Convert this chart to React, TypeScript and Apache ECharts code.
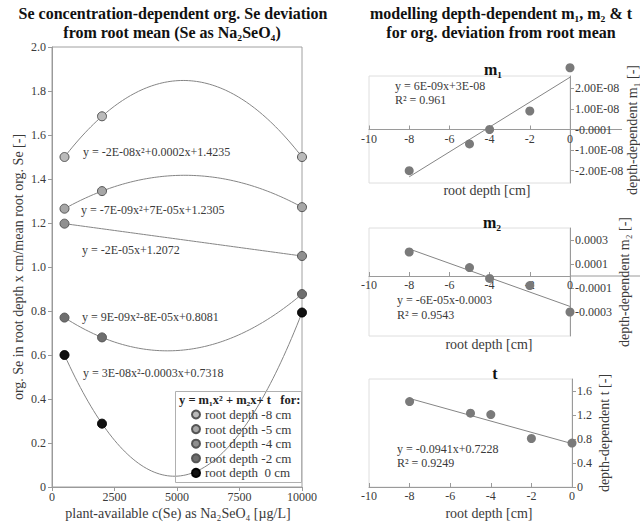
import { useEffect, useRef } from "react";
import * as echarts from "echarts";

const FONT = "'Liberation Serif', 'Times New Roman', serif";
const TEXT = "#3a3a3a";
const AXIS = "#9a9a9a";

// ---- left panel: org. Se deviation vs. plant-available Se ----
const depthNames = [
  "root depth -8 cm",
  "root depth -5 cm",
  "root depth -4 cm",
  "root depth -2 cm",
  "root depth  0 cm",
];
const conc3 = [500, 2000, 10000];
const conc2 = [500, 10000];
const dev8 = [1.5, 1.685, 1.5];
const dev5 = [1.265, 1.345, 1.272];
const dev4 = [1.197, 1.05];
const dev2 = [0.77, 0.68, 0.877];
const dev0 = [0.6, 0.288, 0.793];
const depthFills = ["#bababa", "#a6a6a6", "#8f8f8f", "#6e6e6e", "#111111"];
const fitEquations = [
  "y = -2E-08x\u00b2+0.0002x+1.4235",
  "y = -7E-09x\u00b2+7E-05x+1.2305",
  "y = -2E-05x+1.2072",
  "y = 9E-09x\u00b2-8E-05x+0.8081",
  "y = 3E-08x\u00b2-0.0003x+0.7318",
];
const fitLabelPos = [
  [83, 152],
  [81, 210],
  [82, 250],
  [82, 317],
  [83, 373],
];

// ---- right panels: depth-dependent coefficients ----
const rootDepths = [-8, -5, -4, -2, 0];
const m1Values = [-2e-8, -7e-9, 0, 9e-9, 3e-8];
const m2Values = [2e-4, 7e-5, -2e-5, -8e-5, -3e-4];
const tValues = [1.4235, 1.2305, 1.2072, 0.8081, 0.7318];
const m1Range = [-2.6e-8, 2.6e-8];
const m2Range = [-5e-4, 4e-4];
const tRange = [0, 1.8];
const m1Ticks = [-2e-8, -1e-8, 0, 1e-8, 2e-8];
const m1TickLabels = ["-2.00E-08", "-1.00E-08", "-0.0001", "1.00E-08", "2.00E-08"];
const m2Ticks = [-3e-4, -1e-4, 1e-4, 3e-4];
const m2TickLabels = ["-0.0003", "-0.0001", "0.0001", "0.0003"];
const tTicks = [0, 0.4, 0.8, 1.2, 1.6];
const tTickLabels = ["0", "0.4", "0.8", "1.2", "1.6"];
const m1Fit = ["y = 6E-09x+3E-08", "R\u00b2 = 0.961"];
const m2Fit = ["y = -6E-05x-0.0003", "R\u00b2 = 0.9543"];
const tFit = ["y = -0.0941x+0.7228", "R\u00b2 = 0.9249"];

// polynomial trendline through the given points (Newton divided differences)
function polyThrough(xs: number[], ys: number[]) {
  const n = xs.length;
  const coef = ys.slice();
  for (let j = 1; j < n; j++) {
    for (let i = n - 1; i >= j; i--) {
      coef[i] = (coef[i] - coef[i - 1]) / (xs[i] - xs[i - j]);
    }
  }
  return (x: number) => {
    let v = coef[n - 1];
    for (let i = n - 2; i >= 0; i--) v = v * (x - xs[i]) + coef[i];
    return v;
  };
}

function trendCurve(xs: number[], ys: number[], steps = 90) {
  const f = polyThrough(xs, ys);
  const a = xs[0];
  const b = xs[xs.length - 1];
  const pts: number[][] = [];
  for (let i = 0; i <= steps; i++) {
    const x = a + ((b - a) * i) / steps;
    pts.push([x, f(x)]);
  }
  return pts;
}

// least-squares straight line over the data range
function linearTrend(xs: number[], ys: number[]) {
  const n = xs.length;
  const mx = xs.reduce((s, v) => s + v, 0) / n;
  const my = ys.reduce((s, v) => s + v, 0) / n;
  let sxy = 0;
  let sxx = 0;
  for (let i = 0; i < n; i++) {
    sxy += (xs[i] - mx) * (ys[i] - my);
    sxx += (xs[i] - mx) ** 2;
  }
  const slope = sxy / sxx;
  const icpt = my - slope * mx;
  const x0 = Math.min(...xs);
  const x1 = Math.max(...xs);
  return [
    [x0, slope * x0 + icpt],
    [x1, slope * x1 + icpt],
  ];
}

function tickLabel(v: number, ticks: number[], labels: string[]) {
  const span = Math.abs(ticks[ticks.length - 1] - ticks[0]) || 1;
  for (let i = 0; i < ticks.length; i++) {
    if (Math.abs(v - ticks[i]) < span * 1e-6) return labels[i];
  }
  return "";
}

const zip = (xs: number[], ys: number[]) => xs.map((x, i) => [x, ys[i]]);

function txt(text: string, x: number, y: number, size: number, opts: any = {}) {
  return {
    type: "text",
    x,
    y,
    rotation: opts.rotation || 0,
    silent: true,
    z: 100,
    style: {
      text,
      x: 0,
      y: 0,
      fill: opts.fill || TEXT,
      fontSize: size,
      fontFamily: FONT,
      fontWeight: opts.bold ? "bold" : "normal",
      align: opts.align || "left",
      verticalAlign: "middle",
      textAlign: opts.align || "left",
      textVerticalAlign: "middle",
    },
  };
}

// panel geometry for the coefficient plots
const panels = [
  { left: 369, top: 76, width: 201, height: 107, range: m1Range },
  { left: 369, top: 228, width: 201, height: 108, range: m2Range },
  { left: 369, top: 379, width: 203, height: 108, range: tRange },
];

function buildOption() {
  const depthSeries = [
    { x: conc3, y: dev8 },
    { x: conc3, y: dev5 },
    { x: conc2, y: dev4 },
    { x: conc3, y: dev2 },
    { x: conc3, y: dev0 },
  ];

  const labelStyle = { color: TEXT, fontSize: 12, fontFamily: FONT };

  // depth axis sits on the zero line of its value axis
  const depthXAxis = (k: number) => {
    const p = panels[k];
    const [lo, hi] = p.range;
    const zeroShift = lo < 0 ? (p.height * (0 - lo)) / (hi - lo) : 0;
    return {
      gridIndex: k + 1,
      type: "value",
      min: -10,
      max: 0,
      interval: 2,
      offset: -zeroShift,
      axisLine: { onZero: false, lineStyle: { color: AXIS } },
      axisTick: { show: true, inside: true, length: 4, lineStyle: { color: AXIS } },
      axisLabel: { ...labelStyle, margin: 3 },
      splitLine: { show: false },
    };
  };

  const coefYAxis = (k: number, ticks: number[], labels: string[]) => ({
    gridIndex: k + 1,
    type: "value",
    position: "right",
    min: panels[k].range[0],
    max: panels[k].range[1],
    axisLine: { show: true, onZero: false, lineStyle: { color: AXIS } },
    axisTick: { show: true, length: 4, customValues: ticks, lineStyle: { color: AXIS } },
    axisLabel: {
      ...labelStyle,
      margin: 5,
      customValues: ticks,
      formatter: (v: number) => tickLabel(v, ticks, labels),
    },
    splitLine: { show: false },
  });

  const series: any[] = [];
  depthSeries.forEach((d, i) => {
    series.push({
      name: depthNames[i] + " fit",
      type: "line",
      xAxisIndex: 0,
      yAxisIndex: 0,
      data: trendCurve(d.x, d.y),
      showSymbol: false,
      silent: true,
      lineStyle: { color: "#858585", width: 1 },
      z: 2,
    });
  });
  depthSeries.forEach((d, i) => {
    series.push({
      name: depthNames[i],
      type: "scatter",
      xAxisIndex: 0,
      yAxisIndex: 0,
      data: zip(d.x, d.y),
      symbol: "circle",
      symbolSize: 9,
      itemStyle: {
        color: depthFills[i],
        borderColor: i === 4 ? "#000" : "#555",
        borderWidth: 1,
        opacity: 1,
      },
      z: 3,
    });
  });

  const coefSets = [m1Values, m2Values, tValues];
  coefSets.forEach((vals, k) => {
    series.push({
      name: "coef fit " + k,
      type: "line",
      xAxisIndex: k + 1,
      yAxisIndex: k + 1,
      data: linearTrend(rootDepths, vals),
      showSymbol: false,
      silent: true,
      lineStyle: { color: "#858585", width: 1 },
      z: 2,
    });
    series.push({
      name: "coef " + k,
      type: "scatter",
      xAxisIndex: k + 1,
      yAxisIndex: k + 1,
      data: zip(rootDepths, vals),
      symbolSize: 9,
      clip: false,
      itemStyle: { color: "#7a7a7a", opacity: 1 },
      z: 3,
    });
  });

  const graphic: any[] = [
    // chart titles
    txt("Se concentration-dependent org. Se deviation", 173, 13, 16, { bold: true, align: "center", fill: "#111" }),
    txt("from root mean (Se as Na\u2082SeO\u2084)", 172, 32, 16, { bold: true, align: "center", fill: "#111" }),
    txt("modelling depth-dependent m\u2081, m\u2082 & t", 501, 13, 16, { bold: true, align: "center", fill: "#111" }),
    txt("for org. deviation from root mean", 501, 32, 16, { bold: true, align: "center", fill: "#111" }),
    // left axis names
    txt("plant-available c(Se) as Na\u2082SeO\u2084 [\u00b5g/L]", 178, 513, 14, { align: "center" }),
    txt("org. Se in root depth x cm/mean root org. Se [-]", 18, 267, 14, { align: "center", rotation: Math.PI / 2 }),
    // legend frame and heading
    {
      type: "rect",
      shape: { x: 175.5, y: 391.5, width: 126, height: 91 },
      style: { fill: "none", stroke: "#b0b0b0", lineWidth: 1 },
      silent: true,
      z: 90,
    },
    txt("y = m\u2081x\u00b2 + m\u2082x+ t   for:", 179, 400, 12.5, { bold: true, fill: "#222" }),
    // panel titles
    txt("m\u2081", 493, 69, 16, { bold: true, align: "center", fill: "#111" }),
    txt("m\u2082", 492, 222, 16, { bold: true, align: "center", fill: "#111" }),
    txt("t", 495, 373, 16, { bold: true, align: "center", fill: "#111" }),
    // panel axis names
    txt("root depth [cm]", 487, 190, 14, { align: "center" }),
    txt("root depth [cm]", 489, 344, 14, { align: "center" }),
    txt("root depth [cm]", 489, 513, 14, { align: "center" }),
    txt("depth-dependent m\u2081 [-]", 632, 130, 14, { align: "center", rotation: Math.PI / 2 }),
    txt("depth-dependent m\u2082 [-]", 624, 282, 14, { align: "center", rotation: Math.PI / 2 }),
    txt("depth-dependent t [-]", 604, 433, 14, { align: "center", rotation: Math.PI / 2 }),
    // regression equations
    txt(m1Fit[0], 395, 86, 12),
    txt(m1Fit[1], 395, 100, 12),
    txt(m2Fit[0], 397, 300, 12),
    txt(m2Fit[1], 397, 315, 12),
    txt(tFit[0], 397, 449, 12),
    txt(tFit[1], 397, 463, 12),
    // zero lines running on past the coefficient axes
    { type: "line", shape: { x1: 570, y1: 129.5, x2: 622, y2: 129.5 }, style: { stroke: AXIS, lineWidth: 1 }, silent: true },
    { type: "line", shape: { x1: 570, y1: 276, x2: 640, y2: 276 }, style: { stroke: AXIS, lineWidth: 1 }, silent: true },
  ];
  fitEquations.forEach((eq, i) => {
    graphic.push(txt(eq, fitLabelPos[i][0], fitLabelPos[i][1], 12));
  });

  return {
    animation: false,
    backgroundColor: "#ffffff",
    textStyle: { fontFamily: FONT },
    grid: [
      { left: 52, top: 47, width: 250, height: 440, show: true, borderColor: "#a0a0a0", borderWidth: 1 },
      ...panels.map((p) => ({
        left: p.left,
        top: p.top,
        width: p.width,
        height: p.height,
        show: true,
        borderColor: "#dedede",
        borderWidth: 1,
      })),
    ],
    xAxis: [
      {
        gridIndex: 0,
        type: "value",
        min: 0,
        max: 10000,
        interval: 2500,
        axisLine: { lineStyle: { color: AXIS } },
        axisTick: { show: true, length: 4, lineStyle: { color: AXIS } },
        axisLabel: { ...labelStyle, margin: 4, formatter: (v: number) => String(v) },
        splitLine: { show: false },
      },
      depthXAxis(0),
      depthXAxis(1),
      depthXAxis(2),
    ],
    yAxis: [
      {
        gridIndex: 0,
        type: "value",
        min: 0,
        max: 2,
        interval: 0.2,
        axisLine: { show: true, lineStyle: { color: AXIS } },
        axisTick: { show: true, length: 4, lineStyle: { color: AXIS } },
        axisLabel: {
          ...labelStyle,
          margin: 6,
          formatter: (v: number) => (v === 0 ? "0" : v.toFixed(1)),
        },
        splitLine: { show: false },
      },
      coefYAxis(0, m1Ticks, m1TickLabels),
      coefYAxis(1, m2Ticks, m2TickLabels),
      coefYAxis(2, tTicks, tTickLabels),
    ],
    legend: {
      data: depthNames,
      orient: "vertical",
      left: 191,
      top: 407.5,
      padding: 0,
      itemWidth: 8,
      itemHeight: 8,
      itemGap: 0.6,
      icon: "circle",
      selectedMode: false,
      textStyle: { fontFamily: FONT, fontSize: 13, color: TEXT, lineHeight: 14 },
    },
    graphic,
    series,
  };
}

export default function App() {
  const ref = useRef<HTMLDivElement>(null);
  useEffect(() => {
    if (!ref.current) return;
    const chart = echarts.init(ref.current, null, { renderer: "svg" });
    chart.setOption(buildOption() as any);
    return () => chart.dispose();
  }, []);
  return (
    <div
      ref={ref}
      style={{ position: "absolute", left: 0, top: 0, width: 640, height: 523, background: "#fff" }}
    />
  );
}
